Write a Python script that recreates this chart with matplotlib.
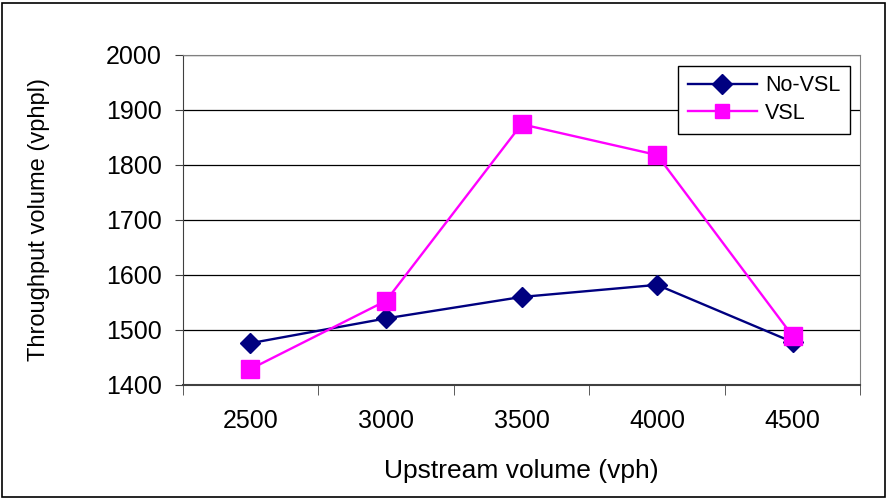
import matplotlib
matplotlib.use("Agg")
import matplotlib.pyplot as plt
from matplotlib.patches import Rectangle

categories = ["2500", "3000", "3500", "4000", "4500"]
no_vsl = [1476, 1521, 1560, 1582, 1478]
vsl = [1429, 1553, 1874, 1818, 1489]
y_ticks = [1400, 1500, 1600, 1700, 1800, 1900, 2000]

plt.rcParams['font.family'] = ['Liberation Sans', 'DejaVu Sans']

fig = plt.figure(figsize=(8.87, 4.99), dpi=100)
ax = fig.add_axes([0.206, 0.2285, 0.764, 0.6615])
fig.patches.append(Rectangle((0.002, 0.004), 0.996, 0.99, transform=fig.transFigure,
                             fill=False, edgecolor='black', linewidth=1.2))

x = list(range(len(categories)))
ax.plot(x, no_vsl, color='#000080', marker='D', markersize=10, linewidth=1.7, label='No-VSL', zorder=3)
ax.plot(x, vsl, color='#FF00FF', marker='s', markersize=12.5, linewidth=1.7, label='VSL', zorder=4)

ax.set_xlim(-0.5, len(categories) - 0.5)
ax.set_ylim(1400, 2000)
ax.set_yticks(y_ticks)
ax.set_yticklabels([str(v) for v in y_ticks], fontsize=18)
ax.set_xticks(x)
ax.set_xticklabels(categories, fontsize=18)
ax.tick_params(axis='x', length=0, pad=17)
ax.set_xticks([i + 0.5 for i in range(-1, len(categories))], minor=True)
ax.tick_params(axis='x', which='minor', length=7, direction='out', color='#404040')
ax.tick_params(axis='y', length=6, direction='out', color='#404040', pad=9)
ax.grid(axis='y', color='black', linewidth=0.9)
ax.set_axisbelow(True)
for side in ['top', 'right']:
    ax.spines[side].set_color('#808080')
for side in ['left', 'bottom']:
    ax.spines[side].set_color('#404040')
ax.spines['bottom'].set_linewidth(1.5)

ax.set_xlabel('Upstream volume (vph)', fontsize=19, labelpad=19)
ax.set_ylabel('Throughput volume (vphpl)', fontsize=17, labelpad=40)

leg = ax.legend(loc='upper right', bbox_to_anchor=(0.985, 0.967), borderaxespad=0,
                fontsize=15.5, frameon=True,
                fancybox=False, edgecolor='black', framealpha=1, borderpad=0.45,
                handlelength=3.2, handletextpad=0.4, labelspacing=0.3)
leg.get_frame().set_linewidth(1.0)
for h in leg.legend_handles:
    h.set_markersize(10)

fig.savefig('out.png', dpi=100)
